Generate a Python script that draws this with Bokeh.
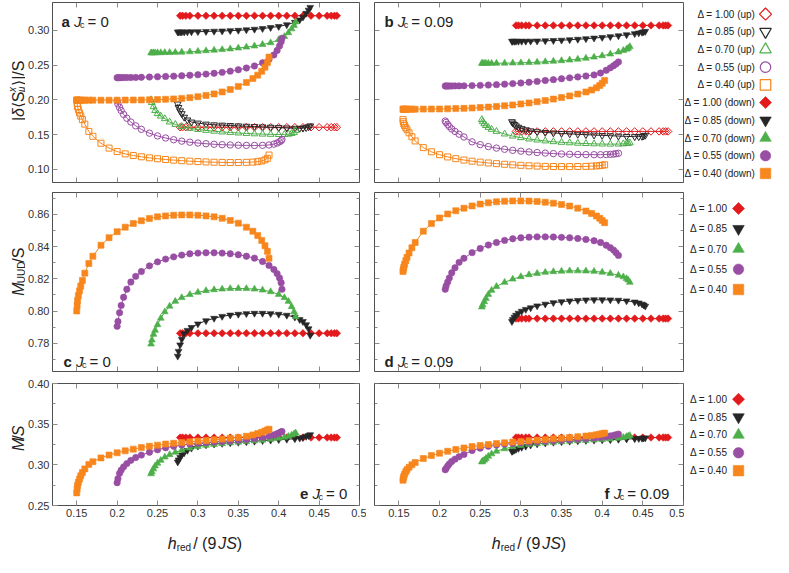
import math
from bokeh.plotting import figure
from bokeh.models import Range1d, LinearAxis, FixedTicker, Label, NumeralTickFormatter
from bokeh.layouts import row, column
from bokeh.core.properties import value
from bokeh.embed import file_html
from bokeh.resources import INLINE

# ---------------------------------------------------------------- data
DELTAS = ["1.00", "0.85", "0.70", "0.55", "0.40"]

# J_c = 0 : field grids (h_red / 9JS)
X100_0 = [0.278, 0.281, 0.285, 0.290, 0.300, 0.310, 0.320, 0.330, 0.340, 0.350, 0.360, 0.370,
          0.380, 0.390, 0.400, 0.410, 0.420, 0.430, 0.440, 0.450, 0.460, 0.465, 0.469, 0.472]
X085_0 = [0.275, 0.276, 0.278, 0.280, 0.283, 0.287, 0.292, 0.300, 0.310, 0.320, 0.330, 0.340, 0.350,
          0.360, 0.370, 0.380, 0.390, 0.400, 0.410, 0.420, 0.426, 0.430, 0.434, 0.437, 0.439]
X070_0 = [0.242, 0.243, 0.245, 0.247, 0.250, 0.254, 0.259, 0.265, 0.272, 0.280, 0.290, 0.300, 0.310, 0.320,
          0.330, 0.340, 0.350, 0.360, 0.370, 0.380, 0.390, 0.400, 0.407, 0.412, 0.416, 0.419, 0.421]
X055_0 = [0.200, 0.201, 0.203, 0.205, 0.208, 0.212, 0.217, 0.223, 0.230, 0.240, 0.250, 0.260, 0.270, 0.280, 0.290,
          0.300, 0.310, 0.320, 0.330, 0.340, 0.350, 0.360, 0.370, 0.380, 0.388, 0.394, 0.398, 0.401, 0.403, 0.404]
X040_0 = [0.150, 0.1505, 0.151, 0.152, 0.1535, 0.155, 0.157, 0.160, 0.165, 0.170, 0.180, 0.190, 0.200, 0.210, 0.220,
          0.230, 0.240, 0.250, 0.260, 0.270, 0.280, 0.290, 0.300, 0.310, 0.320, 0.330, 0.340, 0.350, 0.360, 0.368,
          0.374, 0.379, 0.383, 0.386, 0.388]

# panel a : |delta<S^x_mu>|/S, J_c = 0
A_UP100_0 = [0.1605, 0.1605, 0.1605, 0.1605, 0.1605, 0.1605, 0.1605, 0.1605, 0.1605, 0.1605, 0.1605, 0.1605,
             0.1605, 0.1605, 0.1605, 0.1605, 0.1605, 0.1605, 0.1605, 0.1605, 0.1605, 0.1605, 0.1605, 0.1605]
A_DN100_0 = [0.3210, 0.3210, 0.3210, 0.3210, 0.3210, 0.3210, 0.3210, 0.3210, 0.3210, 0.3210, 0.3210, 0.3210,
             0.3210, 0.3210, 0.3210, 0.3210, 0.3210, 0.3210, 0.3210, 0.3210, 0.3210, 0.3210, 0.3210, 0.3210]
A_UP085_0 = [0.1940, 0.1890, 0.1840, 0.1800, 0.1750, 0.1710, 0.1680, 0.1665, 0.1650, 0.1640, 0.1635, 0.1630, 0.1625,
             0.1620, 0.1615, 0.1610, 0.1605, 0.1600, 0.1595, 0.1590, 0.1590, 0.1592, 0.1600, 0.1612, 0.1625]
A_DN085_0 = [0.2975, 0.2975, 0.2975, 0.2975, 0.2976, 0.2977, 0.2978, 0.2980, 0.2983, 0.2987, 0.2990, 0.2995, 0.3000,
             0.3007, 0.3015, 0.3025, 0.3040, 0.3055, 0.3080, 0.3115, 0.3150, 0.3190, 0.3245, 0.3290, 0.3330]
A_UP070_0 = [0.2000, 0.1960, 0.1900, 0.1845, 0.1800, 0.1765, 0.1728, 0.1680, 0.1645, 0.1615, 0.1590, 0.1573, 0.1560,
             0.1548, 0.1537, 0.1530, 0.1522, 0.1516, 0.1510, 0.1506, 0.1503, 0.1500, 0.1500, 0.1505, 0.1515, 0.1530,
             0.1560]
A_DN070_0 = [0.2675, 0.2675, 0.2676, 0.2676, 0.2677, 0.2678, 0.2679, 0.2680, 0.2682, 0.2685, 0.2690, 0.2697, 0.2705,
             0.2713, 0.2722, 0.2732, 0.2745, 0.2758, 0.2774, 0.2795, 0.2820, 0.2865, 0.2910, 0.2965, 0.3020, 0.3070,
             0.3120]
A_UP055_0 = [0.1985, 0.1940, 0.1890, 0.1845, 0.1790, 0.1735, 0.1680, 0.1625, 0.1575, 0.1520, 0.1480, 0.1450, 0.1425,
             0.1405, 0.1390, 0.1378, 0.1368, 0.1360, 0.1354, 0.1350, 0.1346, 0.1344, 0.1343, 0.1345, 0.1350, 0.1362,
             0.1378, 0.1395, 0.1412, 0.1430]
A_DN055_0 = [0.2318, 0.2318, 0.2318, 0.2319, 0.2320, 0.2320, 0.2321, 0.2322, 0.2324, 0.2327, 0.2331, 0.2335, 0.2340,
             0.2346, 0.2353, 0.2361, 0.2370, 0.2381, 0.2395, 0.2412, 0.2432, 0.2457, 0.2487, 0.2532, 0.2585, 0.2645,
             0.2710, 0.2775, 0.2835, 0.2885]
A_UP040_0 = [0.1995, 0.1950, 0.1905, 0.1860, 0.1810, 0.1765, 0.1715, 0.1650, 0.1545, 0.1475, 0.1375, 0.1305, 0.1255,
             0.1222, 0.1198, 0.1180, 0.1165, 0.1152, 0.1141, 0.1132, 0.1124, 0.1117, 0.1111, 0.1106, 0.1102, 0.1099,
             0.1098, 0.1098, 0.1100, 0.1104, 0.1110, 0.1120, 0.1135, 0.1158, 0.1205]
A_DN040_0 = [0.1995, 0.1995, 0.1995, 0.1995, 0.1995, 0.1995, 0.1995, 0.1995, 0.1995, 0.1995, 0.1995, 0.1995, 0.1995,
             0.1996, 0.1997, 0.1998, 0.2000, 0.2003, 0.2007, 0.2013, 0.2020, 0.2031, 0.2045, 0.2063, 0.2085, 0.2113,
             0.2148, 0.2193, 0.2248, 0.2305, 0.2355, 0.2410, 0.2470, 0.2535, 0.2615]

# panel c : M_UUD/S, J_c = 0
C100_0 = [0.7862, 0.7862, 0.7862, 0.7862, 0.7862, 0.7862, 0.7862, 0.7862, 0.7862, 0.7862, 0.7862, 0.7862,
          0.7862, 0.7862, 0.7862, 0.7862, 0.7862, 0.7862, 0.7862, 0.7862, 0.7862, 0.7862, 0.7862, 0.7862]
C085_0 = [0.7720, 0.7750, 0.7790, 0.7825, 0.7860, 0.7880, 0.7898, 0.7920, 0.7940, 0.7955, 0.7967, 0.7975, 0.7980,
          0.7984, 0.7986, 0.7986, 0.7984, 0.7980, 0.7974, 0.7962, 0.7947, 0.7935, 0.7915, 0.7890, 0.7850]
C070_0 = [0.7795, 0.7820, 0.7855, 0.7880, 0.7915, 0.7955, 0.7995, 0.8030, 0.8060, 0.8083, 0.8102, 0.8116, 0.8126,
          0.8132, 0.8136, 0.8139, 0.8140, 0.8139, 0.8136, 0.8130, 0.8120, 0.8103, 0.8083, 0.8060, 0.8027, 0.7995,
          0.7965]
C055_0 = [0.7905, 0.7935, 0.7990, 0.8035, 0.8085, 0.8135, 0.8180, 0.8215, 0.8245, 0.8280, 0.8305, 0.8322, 0.8336,
          0.8347, 0.8355, 0.8359, 0.8361, 0.8361, 0.8359, 0.8355, 0.8349, 0.8340, 0.8328, 0.8307, 0.8283, 0.8258,
          0.8232, 0.8205, 0.8175, 0.8135]
C040_0 = [0.8000, 0.8035, 0.8065, 0.8095, 0.8125, 0.8155, 0.8190, 0.8235, 0.8295, 0.8340, 0.8408, 0.8455, 0.8492,
          0.8520, 0.8543, 0.8560, 0.8574, 0.8584, 0.8590, 0.8594, 0.8596, 0.8596, 0.8594, 0.8590, 0.8584, 0.8575,
          0.8562, 0.8545, 0.8520, 0.8495, 0.8468, 0.8438, 0.8405, 0.8370, 0.8327]

# panel e : M/S, J_c = 0
E100_0 = [0.3335, 0.3335, 0.3335, 0.3335, 0.3335, 0.3335, 0.3335, 0.3335, 0.3335, 0.3335, 0.3335, 0.3335,
          0.3335, 0.3335, 0.3335, 0.3335, 0.3335, 0.3335, 0.3335, 0.3335, 0.3335, 0.3335, 0.3335, 0.3335]
E085_0 = [0.3035, 0.3060, 0.3090, 0.3120, 0.3148, 0.3178, 0.3205, 0.3230, 0.3245, 0.3255, 0.3263, 0.3270, 0.3277,
          0.3284, 0.3290, 0.3297, 0.3303, 0.3310, 0.3315, 0.3320, 0.3328, 0.3337, 0.3350, 0.3360, 0.3370]
E070_0 = [0.2890, 0.2915, 0.2950, 0.2985, 0.3020, 0.3055, 0.3095, 0.3125, 0.3155, 0.3180, 0.3205, 0.3225, 0.3240,
          0.3250, 0.3260, 0.3270, 0.3278, 0.3286, 0.3294, 0.3303, 0.3313, 0.3326, 0.3338, 0.3350, 0.3365, 0.3380,
          0.3392]
E055_0 = [0.2780, 0.2830, 0.2895, 0.2935, 0.2975, 0.3015, 0.3055, 0.3090, 0.3120, 0.3155, 0.3185, 0.3210, 0.3228,
          0.3243, 0.3255, 0.3265, 0.3273, 0.3280, 0.3287, 0.3294, 0.3302, 0.3311, 0.3322, 0.3337, 0.3353, 0.3368,
          0.3382, 0.3395, 0.3405, 0.3410]
E040_0 = [0.2655, 0.2705, 0.2745, 0.2785, 0.2825, 0.2865, 0.2905, 0.2950, 0.3005, 0.3038, 0.3085, 0.3120, 0.3148,
          0.3172, 0.3193, 0.3212, 0.3228, 0.3242, 0.3255, 0.3265, 0.3275, 0.3284, 0.3292, 0.3300, 0.3308, 0.3317,
          0.3326, 0.3337, 0.3352, 0.3368, 0.3385, 0.3400, 0.3415, 0.3428, 0.3438]

# J_c = 0.09 : field grids
X100_9 = [0.294, 0.297, 0.301, 0.306, 0.310, 0.320, 0.330, 0.340, 0.350, 0.360, 0.370, 0.380,
          0.390, 0.400, 0.410, 0.420, 0.430, 0.440, 0.450, 0.460, 0.470, 0.475, 0.478, 0.481]
X085_9 = [0.289, 0.290, 0.292, 0.294, 0.297, 0.301, 0.306, 0.312, 0.320, 0.330, 0.340, 0.350, 0.360,
          0.370, 0.380, 0.390, 0.400, 0.410, 0.420, 0.430, 0.440, 0.445, 0.449, 0.451, 0.453]
X070_9 = [0.252, 0.253, 0.255, 0.257, 0.260, 0.264, 0.270, 0.280, 0.290, 0.300, 0.310, 0.320, 0.330,
          0.340, 0.350, 0.360, 0.370, 0.380, 0.390, 0.400, 0.410, 0.420, 0.426, 0.430, 0.432, 0.434]
X055_9 = [0.207, 0.208, 0.210, 0.212, 0.215, 0.219, 0.224, 0.230, 0.240, 0.250, 0.260, 0.270, 0.280, 0.290, 0.300,
          0.310, 0.320, 0.330, 0.340, 0.350, 0.360, 0.370, 0.380, 0.390, 0.398, 0.405, 0.410, 0.414, 0.417, 0.420]
X040_9 = [0.155, 0.1555, 0.156, 0.157, 0.1585, 0.160, 0.1625, 0.166, 0.170, 0.180, 0.190, 0.200, 0.210, 0.220,
          0.230, 0.240, 0.250, 0.260, 0.270, 0.280, 0.290, 0.300, 0.310, 0.320, 0.330, 0.340, 0.350, 0.360, 0.370,
          0.380, 0.387, 0.393, 0.397, 0.400, 0.403]

# panel b : |delta<S^x_mu>|/S, J_c = 0.09
B_UP100_9 = [0.1545, 0.1545, 0.1545, 0.1545, 0.1545, 0.1545, 0.1545, 0.1545, 0.1545, 0.1545, 0.1545, 0.1545,
             0.1545, 0.1545, 0.1545, 0.1545, 0.1545, 0.1545, 0.1545, 0.1545, 0.1545, 0.1545, 0.1545, 0.1545]
B_DN100_9 = [0.3070, 0.3070, 0.3070, 0.3070, 0.3070, 0.3070, 0.3070, 0.3070, 0.3070, 0.3070, 0.3070, 0.3070,
             0.3070, 0.3070, 0.3070, 0.3070, 0.3070, 0.3070, 0.3070, 0.3070, 0.3070, 0.3070, 0.3070, 0.3070]
B_UP085_9 = [0.1685, 0.1665, 0.1645, 0.1625, 0.1605, 0.1585, 0.1568, 0.1553, 0.1541, 0.1531, 0.1523, 0.1516, 0.1510,
             0.1504, 0.1498, 0.1493, 0.1488, 0.1483, 0.1478, 0.1473, 0.1470, 0.1470, 0.1474, 0.1481, 0.1490]
B_DN085_9 = [0.2842, 0.2842, 0.2842, 0.2842, 0.2842, 0.2842, 0.2843, 0.2844, 0.2846, 0.2849, 0.2853, 0.2858, 0.2864,
             0.2871, 0.2879, 0.2888, 0.2898, 0.2909, 0.2921, 0.2936, 0.2952, 0.2962, 0.2971, 0.2977, 0.2985]
B_UP070_9 = [0.1715, 0.1685, 0.1655, 0.1630, 0.1603, 0.1575, 0.1545, 0.1508, 0.1478, 0.1455, 0.1436, 0.1421, 0.1408,
             0.1397, 0.1388, 0.1381, 0.1375, 0.1370, 0.1366, 0.1363, 0.1362, 0.1363, 0.1366, 0.1370, 0.1374, 0.1380]
B_DN070_9 = [0.2525, 0.2525, 0.2525, 0.2525, 0.2525, 0.2525, 0.2526, 0.2527, 0.2529, 0.2532, 0.2536, 0.2541, 0.2547,
             0.2554, 0.2562, 0.2572, 0.2584, 0.2598, 0.2614, 0.2634, 0.2658, 0.2688, 0.2710, 0.2728, 0.2742, 0.2765]
B_UP055_9 = [0.1695, 0.1675, 0.1645, 0.1615, 0.1580, 0.1545, 0.1505, 0.1465, 0.1395, 0.1355, 0.1327, 0.1305, 0.1288,
             0.1273, 0.1261, 0.1250, 0.1241, 0.1233, 0.1226, 0.1220, 0.1216, 0.1213, 0.1211, 0.1210, 0.1210, 0.1212,
             0.1215, 0.1219, 0.1224, 0.1230]
B_DN055_9 = [0.2198, 0.2198, 0.2198, 0.2198, 0.2199, 0.2200, 0.2200, 0.2201, 0.2204, 0.2208, 0.2212, 0.2218, 0.2225,
             0.2233, 0.2242, 0.2253, 0.2265, 0.2277, 0.2290, 0.2303, 0.2316, 0.2329, 0.2342, 0.2358, 0.2385, 0.2425,
             0.2460, 0.2490, 0.2515, 0.2545]
B_UP040_9 = [0.1715, 0.1685, 0.1655, 0.1630, 0.1597, 0.1570, 0.1525, 0.1468, 0.1408, 0.1312, 0.1252, 0.1210, 0.1178,
             0.1153, 0.1133, 0.1117, 0.1103, 0.1091, 0.1081, 0.1072, 0.1064, 0.1057, 0.1051, 0.1046, 0.1042, 0.1040,
             0.1039, 0.1039, 0.1040, 0.1042, 0.1045, 0.1049, 0.1053, 0.1058, 0.1065]
B_DN040_9 = [0.1865, 0.1865, 0.1865, 0.1865, 0.1865, 0.1865, 0.1865, 0.1865, 0.1865, 0.1866, 0.1867, 0.1868, 0.1870,
             0.1873, 0.1877, 0.1882, 0.1888, 0.1895, 0.1904, 0.1914, 0.1926, 0.1940, 0.1955, 0.1972, 0.1990, 0.2010,
             0.2032, 0.2056, 0.2083, 0.2113, 0.2140, 0.2172, 0.2205, 0.2238, 0.2278]

# panel d : M_UUD/S, J_c = 0.09
D100_9 = [0.7953, 0.7953, 0.7953, 0.7953, 0.7953, 0.7953, 0.7953, 0.7953, 0.7953, 0.7953, 0.7953, 0.7953,
          0.7953, 0.7953, 0.7953, 0.7953, 0.7953, 0.7953, 0.7953, 0.7953, 0.7953, 0.7953, 0.7953, 0.7953]
D085_9 = [0.7935, 0.7948, 0.7962, 0.7974, 0.7987, 0.7999, 0.8010, 0.8020, 0.8032, 0.8043, 0.8052, 0.8058, 0.8063,
          0.8066, 0.8069, 0.8070, 0.8070, 0.8069, 0.8067, 0.8063, 0.8056, 0.8050, 0.8043, 0.8037, 0.8030]
D070_9 = [0.8025, 0.8038, 0.8058, 0.8078, 0.8103, 0.8128, 0.8152, 0.8178, 0.8198, 0.8213, 0.8225, 0.8233, 0.8240,
          0.8244, 0.8247, 0.8249, 0.8249, 0.8248, 0.8246, 0.8241, 0.8233, 0.8222, 0.8212, 0.8201, 0.8192, 0.8178]
D055_9 = [0.8135, 0.8155, 0.8180, 0.8205, 0.8237, 0.8268, 0.8302, 0.8327, 0.8362, 0.8388, 0.8409, 0.8425, 0.8438,
          0.8448, 0.8454, 0.8458, 0.8460, 0.8460, 0.8459, 0.8457, 0.8454, 0.8450, 0.8444, 0.8436, 0.8425, 0.8408,
          0.8393, 0.8378, 0.8362, 0.8345]
D040_9 = [0.8245, 0.8258, 0.8272, 0.8290, 0.8312, 0.8333, 0.8360, 0.8392, 0.8425, 0.8495, 0.8542, 0.8577, 0.8602,
          0.8622, 0.8638, 0.8652, 0.8663, 0.8671, 0.8677, 0.8681, 0.8683, 0.8683, 0.8682, 0.8679, 0.8675, 0.8669,
          0.8661, 0.8651, 0.8638, 0.8620, 0.8605, 0.8589, 0.8575, 0.8562, 0.8548]

# panel f : M/S, J_c = 0.09
F100_9 = [0.3336, 0.3336, 0.3336, 0.3336, 0.3336, 0.3336, 0.3336, 0.3336, 0.3336, 0.3336, 0.3336, 0.3336,
          0.3336, 0.3336, 0.3336, 0.3336, 0.3336, 0.3336, 0.3336, 0.3336, 0.3336, 0.3336, 0.3336, 0.3336]
F085_9 = [0.3165, 0.3170, 0.3180, 0.3190, 0.3202, 0.3215, 0.3229, 0.3243, 0.3257, 0.3268, 0.3277, 0.3284, 0.3290,
          0.3295, 0.3299, 0.3303, 0.3306, 0.3309, 0.3313, 0.3317, 0.3321, 0.3324, 0.3327, 0.3329, 0.3331]
F070_9 = [0.3035, 0.3045, 0.3058, 0.3078, 0.3105, 0.3135, 0.3168, 0.3197, 0.3222, 0.3238, 0.3250, 0.3260, 0.3268,
          0.3276, 0.3283, 0.3289, 0.3295, 0.3300, 0.3305, 0.3311, 0.3318, 0.3327, 0.3336, 0.3346, 0.3352, 0.3360]
F055_9 = [0.2940, 0.2955, 0.2985, 0.3012, 0.3042, 0.3070, 0.3100, 0.3128, 0.3175, 0.3205, 0.3228, 0.3243, 0.3254,
          0.3263, 0.3271, 0.3278, 0.3284, 0.3290, 0.3296, 0.3302, 0.3308, 0.3315, 0.3322, 0.3330, 0.3338, 0.3347,
          0.3355, 0.3362, 0.3369, 0.3378]
F040_9 = [0.2810, 0.2835, 0.2858, 0.2885, 0.2915, 0.2940, 0.2970, 0.3000, 0.3028, 0.3078, 0.3114, 0.3143, 0.3167,
          0.3188, 0.3207, 0.3224, 0.3238, 0.3250, 0.3261, 0.3271, 0.3280, 0.3288, 0.3296, 0.3304, 0.3312, 0.3320,
          0.3328, 0.3336, 0.3345, 0.3354, 0.3362, 0.3370, 0.3377, 0.3383, 0.3390]

# ticks
X_TICKS = [0.15, 0.2, 0.25, 0.3, 0.35, 0.4, 0.45, 0.5]
X_TICK_LABELS = ["0.15", "0.2", "0.25", "0.3", "0.35", "0.4", "0.45", "0.5"]
YA_TICKS = [0.10, 0.15, 0.20, 0.25, 0.30]
YC_TICKS = [0.78, 0.80, 0.82, 0.84, 0.86]
YC_MINOR = [0.77, 0.79, 0.81, 0.83, 0.85, 0.87]
YE_TICKS = [0.25, 0.30, 0.35, 0.40]
YE_MINOR = [0.275, 0.325, 0.375]

LEG_TOP = ["Δ = 1.00 (up)", "Δ = 0.85 (up)", "Δ = 0.70 (up)", "Δ = 0.55 (up)", "Δ = 0.40 (up)",
           "Δ = 1.00 (down)", "Δ = 0.85 (down)", "Δ = 0.70 (down)", "Δ = 0.55 (down)", "Δ = 0.40 (down)"]
LEG_MID = ["Δ = 1.00", "Δ = 0.85", "Δ = 0.70", "Δ = 0.55", "Δ = 0.40"]

# ---------------------------------------------------------------- style
FONT = "Liberation Sans"
COLORS = {"1.00": "#E31A1C", "0.85": "#262626", "0.70": "#4DAF4A", "0.55": "#984EA3", "0.40": "#F7861C"}
MARKS = {"1.00": ("square", 5.3, math.pi / 4), "0.85": ("inverted_triangle", 6.8, 0.0),
         "0.70": ("triangle", 6.8, 0.0), "0.55": ("circle", 6.4, 0.0), "0.40": ("square", 6.0, 0.0)}
LEG_MARKS = {"1.00": ("square", 8.5, math.pi / 4), "0.85": ("inverted_triangle", 11.5, 0.0),
             "0.70": ("triangle", 11.5, 0.0), "0.55": ("circle", 10.5, 0.0), "0.40": ("square", 10.5, 0.0)}

CW = {' ': 0.278, '|': 0.26, 'δ': 0.556, '⟨': 0.39, '⟩': 0.39, 'S': 0.667, 'x': 0.5, 'μ': 0.576, '/': 0.278,
      'M': 0.833, 'U': 0.722, 'D': 0.722, 'h': 0.556, 'r': 0.333, 'e': 0.556, 'd': 0.556, '(': 0.333, ')': 0.333,
      '9': 0.556, 'J': 0.5, '0': 0.556, '.': 0.278, '=': 0.584, 'a': 0.556, 'b': 0.556, 'c': 0.5, 'f': 0.278}
BW = {'a': 0.556, 'b': 0.611, 'c': 0.556, 'd': 0.611, 'e': 0.556, 'f': 0.333}


def tw(s, size, bold=False):
    tab = BW if bold else CW
    return sum(tab.get(ch, CW.get(ch, 0.556)) for ch in s) * size


def style_axis(ax, ticks, minor, show, overrides=None, fmt=None, fixed=None):
    ax.ticker = FixedTicker(ticks=ticks, minor_ticks=minor)
    ax.major_tick_in = 5
    ax.major_tick_out = 0
    ax.minor_tick_in = 3
    ax.minor_tick_out = 0
    ax.major_tick_line_color = "#8c8c8c"
    ax.minor_tick_line_color = "#8c8c8c"
    ax.axis_line_color = "#505050"
    if show:
        ax.major_label_text_font = FONT
        ax.major_label_text_font_size = "11px"
        ax.major_label_text_color = "#333333"
        ax.major_label_standoff = 3
        if overrides is not None:
            ax.major_label_overrides = overrides
        if fmt is not None:
            ax.formatter = fmt
    else:
        ax.fixed_location = fixed
        ax.major_label_text_font_size = "0px"
        ax.major_label_standoff = 0
        ax.major_label_overrides = {t: "" for t in ticks}


XR = (0.12, 0.5)


def make_panel(w, h, bl, br, bt, bb, yr, yticks, yminor, show_y, show_x):
    p = figure(width=w, height=h, x_range=Range1d(*XR), y_range=Range1d(*yr), title=None,
               output_backend="svg", toolbar_location=None,
               min_border_left=bl, min_border_right=br, min_border_top=bt, min_border_bottom=bb)
    p.xgrid.visible = False
    p.ygrid.visible = False
    p.outline_line_color = "#505050"
    p.outline_line_width = 1
    p.background_fill_color = "white"
    p.border_fill_color = "white"
    style_axis(p.xaxis[0], X_TICKS, [], show_x, overrides=dict(zip(X_TICKS, X_TICK_LABELS)), fixed=yr[0])
    style_axis(p.yaxis[0], yticks, yminor, show_y, fmt=NumeralTickFormatter(format="0.00"), fixed=XR[0])
    ax_r = LinearAxis()
    style_axis(ax_r, yticks, yminor, False, fixed=XR[1])
    p.add_layout(ax_r, "right")
    ax_t = LinearAxis()
    style_axis(ax_t, X_TICKS, [], False, fixed=yr[1])
    p.add_layout(ax_t, "above")
    return p


def draw(p, xs, ys, key, filled):
    c = COLORS[key]
    m, s, a = MARKS[key]
    p.line(xs, ys, line_color=c, line_width=1)
    p.scatter(xs, ys, marker=m, size=s, angle=a, fill_color=c if filled else None,
              line_color=c, line_width=0.6 if filled else 1.0)


def rich(p, parts, x, y, angle=0.0, units="screen"):
    # parts: (text, size, style, shift, advance or None)
    for t, s, st, sh, adv in parts:
        bold = st == "bold"
        if angle == 0.0:
            lx, ly = x, y + sh
        else:
            lx, ly = x - sh, y
        if t.strip():
            p.add_layout(Label(x=lx, y=ly, x_units=units, y_units=units, text=t, angle=angle,
                               text_font=FONT, text_font_size=f"{s}px", text_font_style=st,
                               text_color="#222222", text_align="left", text_baseline="alphabetic"))
        step = adv if adv is not None else tw(t, s, bold)
        if angle == 0.0:
            x += step
        else:
            y += step


def parts_width(parts):
    return sum(adv if adv is not None else tw(t, s, st == "bold") for t, s, st, sh, adv in parts)


def panel_label(p, letter, jc, x, y, right=False):
    fs = 15
    parts = [(letter, fs, "bold", 0, None), (" ", fs, "normal", 0, None), ("J", fs, "italic", 0, 6.0),
             ("c", 9, "normal", -3, 7.5), (" = " + jc, fs, "normal", 0, None)]
    if right:
        x = x - parts_width(parts)
    rich(p, parts, x, y)


def blank(w, h, flip=False):
    p = figure(width=w, height=h, x_range=Range1d(0, w), y_range=Range1d(h, 0) if flip else Range1d(0, h),
               title=None, output_backend="svg", toolbar_location=None, min_border=0,
               x_axis_location=None, y_axis_location=None)
    p.xgrid.visible = False
    p.ygrid.visible = False
    p.outline_line_color = None
    p.background_fill_color = "white"
    p.border_fill_color = "white"
    return p


# ---------------------------------------------------------------- layout
T = 25            # y-title strip width
FW = 309
BL, BRL = 25, 7   # left panels' borders
BLR, BRR = 8, 1   # right panels' borders
LW = BL + FW + BRL
RW = BLR + FW + BRR
LEGW = 773 - T - LW - RW
FH1, FH2, FH3 = 180, 179, 122
H1, H2, H3 = 2 + FH1 + 5, 5 + FH2 + 6, 6 + FH3 + 19
HX = 30

pa = make_panel(LW, H1, BL, BRL, 2, 5, (0.081, 0.340), YA_TICKS, [], True, False)
pb = make_panel(RW, H1, BLR, BRR, 2, 5, (0.081, 0.340), YA_TICKS, [], False, False)
pc = make_panel(LW, H2, BL, BRL, 5, 6, (0.7625, 0.8735), YC_TICKS, YC_MINOR, True, False)
pd = make_panel(RW, H2, BLR, BRR, 5, 6, (0.7625, 0.8735), YC_TICKS, YC_MINOR, False, False)
pe = make_panel(LW, H3, BL, BRL, 6, 19, (0.25, 0.40), YE_TICKS, YE_MINOR, True, True)
pf = make_panel(RW, H3, BLR, BRR, 6, 19, (0.25, 0.40), YE_TICKS, YE_MINOR, False, True)

# panel a / b : up (open) then down (filled)
for xs, ys, k in [(X100_0, A_UP100_0, "1.00"), (X085_0, A_UP085_0, "0.85"), (X070_0, A_UP070_0, "0.70"),
                  (X055_0, A_UP055_0, "0.55"), (X040_0, A_UP040_0, "0.40")]:
    draw(pa, xs, ys, k, False)
for xs, ys, k in [(X100_0, A_DN100_0, "1.00"), (X085_0, A_DN085_0, "0.85"), (X070_0, A_DN070_0, "0.70"),
                  (X055_0, A_DN055_0, "0.55"), (X040_0, A_DN040_0, "0.40")]:
    draw(pa, xs, ys, k, True)
for xs, ys, k in [(X100_9, B_UP100_9, "1.00"), (X085_9, B_UP085_9, "0.85"), (X070_9, B_UP070_9, "0.70"),
                  (X055_9, B_UP055_9, "0.55"), (X040_9, B_UP040_9, "0.40")]:
    draw(pb, xs, ys, k, False)
for xs, ys, k in [(X100_9, B_DN100_9, "1.00"), (X085_9, B_DN085_9, "0.85"), (X070_9, B_DN070_9, "0.70"),
                  (X055_9, B_DN055_9, "0.55"), (X040_9, B_DN040_9, "0.40")]:
    draw(pb, xs, ys, k, True)
for xs, ys, k in [(X100_0, C100_0, "1.00"), (X085_0, C085_0, "0.85"), (X070_0, C070_0, "0.70"),
                  (X055_0, C055_0, "0.55"), (X040_0, C040_0, "0.40")]:
    draw(pc, xs, ys, k, True)
for xs, ys, k in [(X100_9, D100_9, "1.00"), (X085_9, D085_9, "0.85"), (X070_9, D070_9, "0.70"),
                  (X055_9, D055_9, "0.55"), (X040_9, D040_9, "0.40")]:
    draw(pd, xs, ys, k, True)
for xs, ys, k in [(X100_0, E100_0, "1.00"), (X085_0, E085_0, "0.85"), (X070_0, E070_0, "0.70"),
                  (X055_0, E055_0, "0.55"), (X040_0, E040_0, "0.40")]:
    draw(pe, xs, ys, k, True)
for xs, ys, k in [(X100_9, F100_9, "1.00"), (X085_9, F085_9, "0.85"), (X070_9, F070_9, "0.70"),
                  (X055_9, F055_9, "0.55"), (X040_9, F040_9, "0.40")]:
    draw(pf, xs, ys, k, True)

# panel labels
panel_label(pa, "a", "0", 9, FH1 - 19)
panel_label(pb, "b", "0.09", 10, FH1 - 19)
panel_label(pc, "c", "0", 11, 10)
panel_label(pd, "d", "0.09", 10, 10)
panel_label(pe, "e", "0", FW - 10, 12, right=True)
panel_label(pf, "f", "0.09", FW - 10, 12, right=True)

# y-axis titles (rotated, in their own narrow strips)
ta, tc, te = blank(T, H1), blank(T, H2), blank(T, H3)
YB = 17.5
ya_parts = [("|", 16, "normal", 0, None), ("δ", 16, "italic", 0, None), ("⟨S", 16, "normal", 0, None),
            ("x", 10, "italic", 6, 0.0), ("μ", 10, "italic", -3, 6.5), ("⟩|/S", 16, "normal", 0, None)]
rich(ta, ya_parts, YB, 5 + FH1 / 2 - parts_width(ya_parts) / 2, angle=math.pi / 2, units="data")
yc_parts = [("M", 16, "italic", 0, None), ("UUD", 10, "normal", -3, None), ("/S", 16, "normal", 0, None)]
rich(tc, yc_parts, YB, 6 + FH2 / 2 + 10 - parts_width(yc_parts) / 2, angle=math.pi / 2, units="data")
ye_parts = [("M", 16, "italic", 0, None), ("/", 16, "normal", 0, None), ("S", 16, "italic", 0, None)]
rich(te, ye_parts, YB, 19 + FH3 / 2 - parts_width(ye_parts) / 2, angle=math.pi / 2, units="data")

# x-axis titles (own strip below the bottom row)
TOTW = T + LW + RW + LEGW
tx = blank(TOTW, HX)
xl_parts = [("h", 16, "italic", 0, None), ("red", 10, "normal", -4, 16.5), (" / (9", 16, "normal", 0, 25.0),
            ("JS", 16, "italic", 0, None), (")", 16, "normal", 0, None)]
for cx in (T + BL + FW / 2, T + LW + BLR + FW / 2):
    rich(tx, xl_parts, cx - parts_width(xl_parts) / 2, 11, units="data")


# legends
def legend_fig(h, labels, keys, filled, ys, tx_, mx):
    p = blank(LEGW, h, flip=True)
    p.text(x=[tx_] * len(labels), y=ys, text=labels, text_align="right", text_baseline="middle",
           text_font=value(FONT), text_font_size="10px", text_color="#222222")
    for k, f, yy in zip(keys, filled, ys):
        m, s, a = LEG_MARKS[k]
        c = COLORS[k]
        p.scatter([mx], [yy], marker=m, size=s, angle=a, fill_color=c if f else None,
                  line_color=c, line_width=1.2 if not f else 0.6)
    return p


la = legend_fig(H1, LEG_TOP, DELTAS + DELTAS, [False] * 5 + [True] * 5,
                [12 + 18.4 * i for i in range(10)], LEGW - 18, LEGW - 8)
lc = legend_fig(H2, LEG_MID, DELTAS, [True] * 5, [17 + 21.5 * i for i in range(5)], LEGW - 46, LEGW - 35)
le = legend_fig(H3, LEG_MID, DELTAS, [True] * 5, [19 + 21.5 * i for i in range(5)], LEGW - 46, LEGW - 35)

layout = column(row(ta, pa, pb, la), row(tc, pc, pd, lc), row(te, pe, pf, le), tx)

with open("out.html", "w") as fh:
    fh.write(file_html(layout, INLINE))
